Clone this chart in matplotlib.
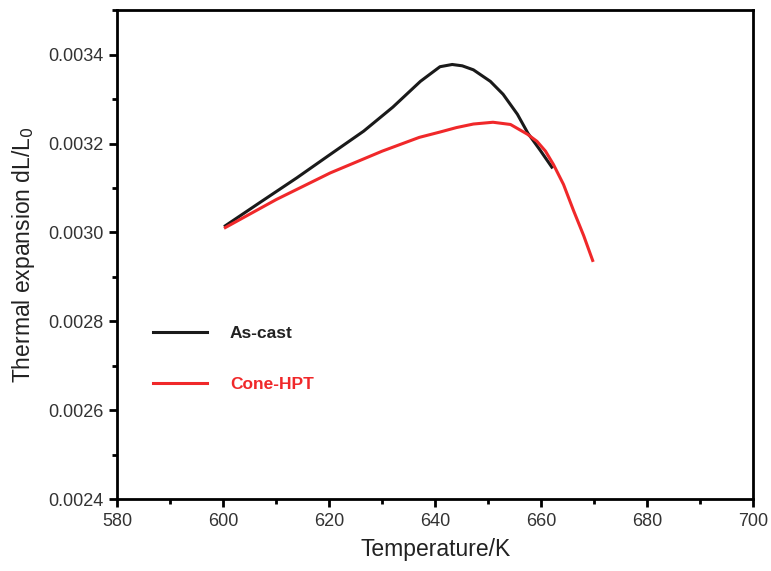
import matplotlib
matplotlib.use('Agg')
import matplotlib.pyplot as plt
from matplotlib.ticker import MultipleLocator

plt.rcParams['font.family'] = ['Liberation Sans', 'DejaVu Sans']

# values
as_cast_T = [600.4, 607.0, 613.9, 620.0, 626.5, 632.0, 637.2, 639.1, 640.9, 643.2,
             645.1, 647.2, 650.4, 652.8, 655.5, 657.5, 659.8, 662.0]
as_cast_dl = [0.003015, 0.003068, 0.003123, 0.003174, 0.003228, 0.003282, 0.003340,
              0.003357, 0.003373, 0.003378, 0.003375, 0.003366, 0.003340, 0.003311,
              0.003266, 0.003223, 0.003185, 0.003147]

cone_T = [600.4, 610.0, 620.2, 630.0, 637.0, 640.9, 644.0, 647.2, 650.9, 654.2,
          657.4, 659.2, 660.8, 662.3, 664.2, 666.1, 668.0, 669.7]
cone_dl = [0.003011, 0.003074, 0.003134, 0.003183, 0.003214, 0.003226, 0.003236,
           0.003244, 0.003248, 0.003243, 0.003221, 0.003205, 0.003183, 0.003153,
           0.003108, 0.003049, 0.002993, 0.002937]

fig = plt.figure(figsize=(7.71, 5.71), dpi=100)
ax = fig.add_axes([0.152, 0.126, 0.825, 0.856])

ax.plot(as_cast_T, as_cast_dl, color='#1a1a1a', lw=2.2, label='As-cast',
        solid_joinstyle='round')
ax.plot(cone_T, cone_dl, color='#f0282a', lw=2.2, label='Cone-HPT',
        solid_joinstyle='round')

ax.set_xlim(580, 700)
ax.set_ylim(0.0024, 0.0035)
ax.xaxis.set_major_locator(MultipleLocator(20))
ax.xaxis.set_minor_locator(MultipleLocator(10))
ax.yaxis.set_major_locator(MultipleLocator(0.0002))
ax.yaxis.set_minor_locator(MultipleLocator(0.0001))
ax.yaxis.set_major_formatter(plt.FuncFormatter(lambda v, p: '%.4f' % v))

for s in ax.spines.values():
    s.set_linewidth(2)
ax.tick_params(which='major', direction='out', length=6, width=2, labelsize=13,
               labelcolor='#333333', pad=4)
ax.tick_params(which='minor', direction='out', length=3.5, width=2)

ax.set_xlabel('Temperature/K', fontsize=16.5, labelpad=6, color='#222222')
ax.set_ylabel('Thermal expansion dL/L$_0$', fontsize=16.5, labelpad=8, color='#222222')

leg = ax.legend(loc='upper left', bbox_to_anchor=(0.057, 0.354), frameon=False,
                fontsize=12.5, handlelength=3.1, labelspacing=2.08, handletextpad=1.3,
                borderpad=0, borderaxespad=0)
for t, c in zip(leg.get_texts(), ['#222222', '#f0282a']):
    t.set_color(c)
    t.set_fontweight('bold')

fig.savefig('out.png', dpi=100)
